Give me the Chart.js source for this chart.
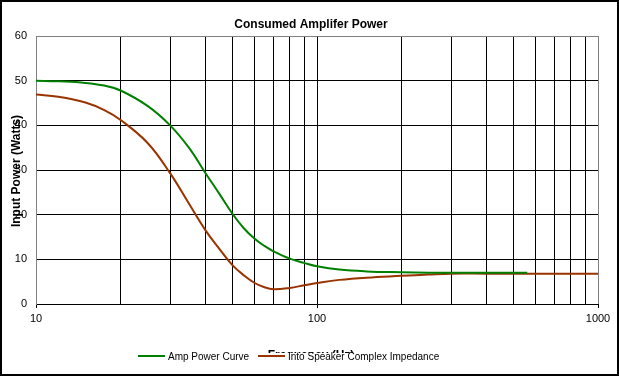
<!DOCTYPE html>
<html>
<head>
<meta charset="utf-8">
<script src="https://cdn.jsdelivr.net/npm/chart.js@4.4.0/dist/chart.umd.min.js"></script>
<style>
  html, body { margin: 0; padding: 0; background: #fff; }
  canvas { display: block; }
</style>
</head>
<body>
<canvas id="ampChart" width="619" height="376"></canvas>
<script>
// chart text
const chartTitle = "Consumed Amplifer Power";
const xTitle = "Frequency (Hz)";
const yTitle = "Input Power (Watts)";
const seriesNames = ["Amp Power Curve", "Into Speaker Complex Impedance"];

// values (Hz -> Watts)
const freqs        = [10, 12, 15, 17.5, 20, 25, 30, 35, 40, 45, 50, 55, 60, 65, 70, 80, 90, 100, 120, 150, 200, 250, 300, 400, 500, 560, 700, 1000];
const ampPower     = [50.0, 49.85, 49.5, 48.9, 47.8, 44.3, 40.0, 35.0, 29.4, 24.6, 20.2, 16.9, 14.6, 13.0, 11.8, 10.15, 9.2, 8.45, 7.7, 7.3, 7.1, 7.0, 7.0, 7.0, 7.0, 7.0, null, null];
const speakerPower = [46.9, 46.4, 45.1, 43.4, 41.2, 36.0, 29.3, 22.5, 16.6, 12.3, 8.7, 6.4, 4.7, 3.75, 3.3, 3.6, 4.2, 4.7, 5.4, 5.9, 6.3, 6.6, 6.8, 6.8, 6.8, 6.8, 6.8, 6.8];

// axis ticks
const xTicks  = [10, 20, 30, 40, 50, 60, 70, 80, 90, 100, 200, 300, 400, 500, 600, 700, 800, 900, 1000];
const xLabels = [10, 100, 1000];
const yMin = 0, yMax = 60, yStep = 10;

const green = "#008000";
const brown = "#993300";
const font = 'Arial, "Liberation Sans", sans-serif';

function toPoints(ys) {
    return freqs.map((f, i) => ({ x: f, y: ys[i] }));
}

// background, frame, axis titles and the legend (drawn by hand like the excel one)
const excelBits = {
    id: "excelBits",
    beforeDraw(chart) {
        const c = chart.ctx;
        c.save();
        c.fillStyle = "#fff";
        c.fillRect(0, 0, chart.width, chart.height);
        c.restore();
    },
    afterDraw(chart) {
        const c = chart.ctx;
        const area = chart.chartArea;
        c.save();

        // outer border
        c.strokeStyle = "#000";
        c.lineWidth = 4;
        c.strokeRect(0, 0, chart.width, chart.height);

        // title
        c.fillStyle = "#000";
        c.font = "bold 12px " + font;
        c.textAlign = "center";
        c.textBaseline = "middle";
        c.fillText(chartTitle, 311, 25);

        // y title, overlaps the tick labels like the original
        c.save();
        c.translate(17, 171);
        c.rotate(-Math.PI / 2);
        c.fillText(yTitle, 0, 0);
        c.restore();

        // x title, mostly hidden under the legend
        c.textBaseline = "alphabetic";
        c.fillText(xTitle, (area.left + area.right) / 2 - 6, 359);
        c.fillStyle = "#fff";
        c.fillRect(120, 353, 350, 14);

        // legend
        c.font = "10px " + font;
        c.textAlign = "left";
        c.textBaseline = "middle";
        const items = [
            { x: 138, ds: chart.data.datasets[0] },
            { x: 258, ds: chart.data.datasets[1] }
        ];
        items.forEach(it => {
            c.strokeStyle = it.ds.borderColor;
            c.lineWidth = 2;
            c.beginPath();
            c.moveTo(it.x, 356);
            c.lineTo(it.x + 27, 356);
            c.stroke();
            c.fillStyle = "#000";
            c.fillText(it.ds.label, it.x + 30, 357);
        });
        c.restore();
    }
};

const ctx = document.getElementById("ampChart").getContext("2d");
new Chart(ctx, {
    type: "line",
    data: {
        datasets: [{
            label: seriesNames[0],
            data: toPoints(ampPower),
            borderColor: green,
            borderWidth: 2,
            pointRadius: 0,
            fill: false,
            tension: 0.4
        }, {
            label: seriesNames[1],
            data: toPoints(speakerPower),
            borderColor: brown,
            borderWidth: 2,
            pointRadius: 0,
            fill: false,
            tension: 0.4
        }]
    },
    options: {
        responsive: false,
        animation: false,
        devicePixelRatio: 1,
        layout: { padding: { top: 36, right: 21, left: 0, bottom: 0 } },
        plugins: {
            legend: { display: false },
            title: { display: false },
            tooltip: { enabled: false }
        },
        scales: {
            x: {
                type: "logarithmic",
                min: 10,
                max: 1000,
                afterBuildTicks: scale => {
                    scale.ticks = xTicks.map(v => ({ value: v }));
                },
                afterFit: scale => { scale.height = 72; },
                ticks: {
                    autoSkip: false,
                    maxRotation: 0,
                    padding: 4,
                    color: "#000",
                    font: { family: font, size: 11 },
                    callback: v => (xLabels.includes(v) ? String(v) : "")
                },
                grid: {
                    color: c => (c.tick && c.tick.value === 1000 ? "#808080" : "#000"),
                    lineWidth: 1,
                    drawTicks: true,
                    tickLength: 4,
                    tickColor: c => (c.tick && xLabels.includes(c.tick.value) ? "#000" : "rgba(0,0,0,0)")
                },
                border: { color: "#000", width: 1 }
            },
            y: {
                min: yMin,
                max: yMax,
                afterFit: scale => { scale.width = 36; },
                ticks: {
                    stepSize: yStep,
                    padding: 9,
                    color: "#000",
                    font: { family: font, size: 11 }
                },
                grid: {
                    color: c => (c.tick && c.tick.value === yMax ? "#808080" : "#000"),
                    lineWidth: 1,
                    drawTicks: false
                },
                border: { color: "#808080", width: 1 }
            }
        }
    },
    plugins: [excelBits]
});
</script>
</body>
</html>
